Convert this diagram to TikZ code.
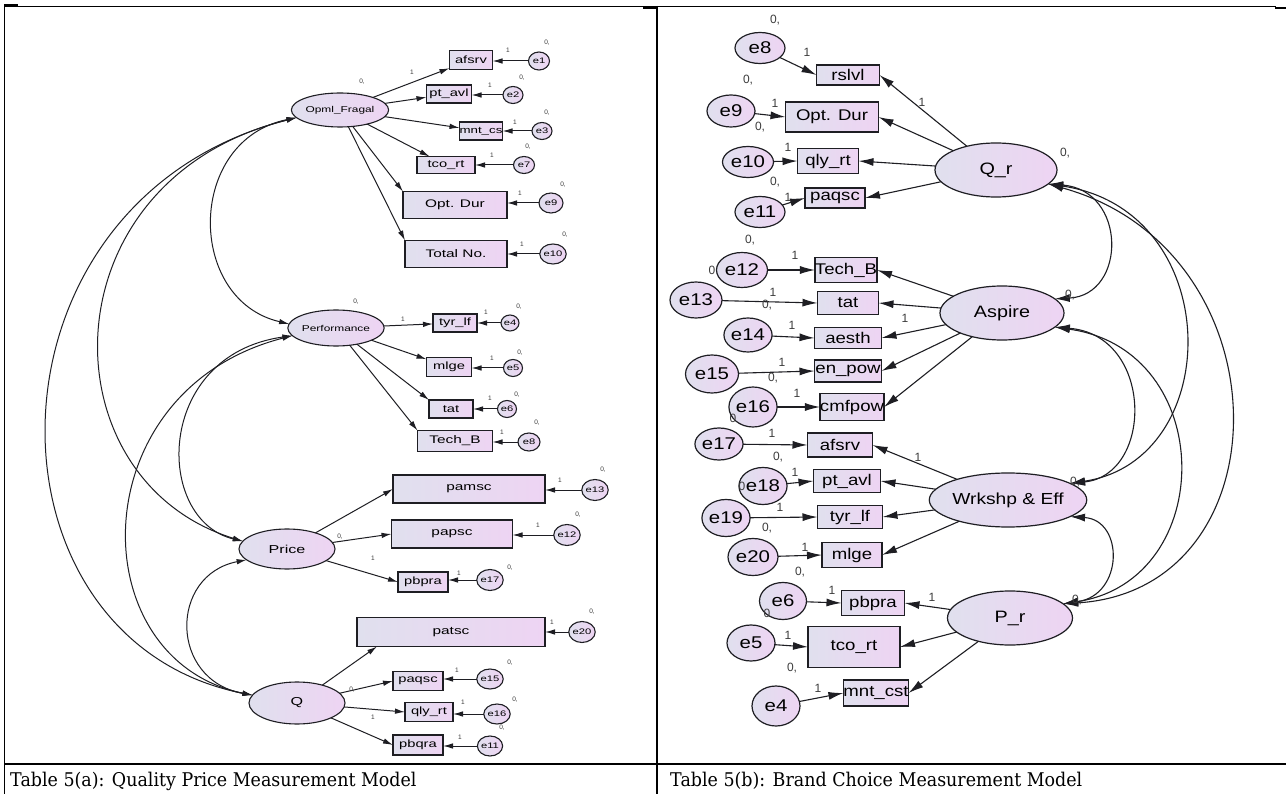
\documentclass[tikz,border=0pt]{standalone}
\usepackage{fontspec}
\usepackage{graphicx}
\setmainfont{Liberation Sans}
\newfontfamily\capfont{DejaVu Serif}
\usetikzlibrary{arrows.meta,shapes.geometric}
\definecolor{shadeL}{RGB}{224,224,238}
\definecolor{shadeR}{RGB}{238,212,243}
\definecolor{inkc}{RGB}{30,30,35}
\definecolor{numc}{RGB}{60,60,60}
\newcommand\Lstr[1]{\scalebox{1.4}[1]{#1}}
\newcommand\Rstr[1]{\scalebox{1.2}[1]{#1}}
\tikzset{
  base/.style={draw=inkc, line width=1.1pt, left color=shadeL, right color=shadeR, inner sep=0pt, outer sep=0pt},
  sz/.style 2 args={minimum width=#1, minimum height=#2},
  latA/.style={base, ellipse, font=\fontsize{8.5}{9}\selectfont},
  boxA/.style={base, rectangle, font=\fontsize{10.5}{11}\selectfont},
  errA/.style={base, ellipse, font=\fontsize{8}{9}\selectfont},
  latB/.style={base, ellipse, line width=1.2pt, font=\fontsize{16.5}{17}\selectfont},
  boxB/.style={base, rectangle, line width=1.2pt, font=\fontsize{15.5}{16}\selectfont},
  errB/.style={base, ellipse, line width=1.2pt, font=\fontsize{17}{18}\selectfont},
  arrA/.style={draw=inkc, line width=1pt, -{Latex[length=10pt,width=5.5pt]}},
  covA/.style={draw=inkc, line width=1pt, {Latex[length=10pt,width=5.5pt]}-{Latex[length=10pt,width=5.5pt]}},
  arrB/.style={draw=inkc, line width=1.1pt, -{Latex[length=15pt,width=8pt]}},
  covB/.style={draw=inkc, line width=1.1pt, {Latex[length=15pt,width=8pt]}-{Latex[length=15pt,width=8pt]}},
  numA/.style={font=\fontsize{6.5}{7}\selectfont, text=numc, inner sep=0pt},
  numB/.style={font=\fontsize{12}{13}\selectfont, text=numc, inner sep=0pt},
  rule/.style={draw=black, line width=1.2pt},
  captxt/.style={anchor=base west, inner sep=0pt, font=\capfont\fontsize{18}{21}\selectfont},
}
\begin{document}
\begin{tikzpicture}[x=1pt,y=-1pt]
\useasboundingbox[fill=white] (0,0) rectangle (1286,794);

% ---- table rules ----
\draw[rule] (4,6.5) -- (1276,6.5);
\draw[draw=black, line width=2.5pt] (4,5.5) -- (18,5.5);
\draw[draw=black, line width=2.5pt] (643,8) -- (657,8);
\draw[draw=black, line width=2.5pt] (1275,8) -- (1286,8);
\draw[rule] (4.5,5) -- (4.5,794);
\draw[rule] (657,6) -- (657,794);
\draw[draw=black, line width=2pt] (4,764) -- (1286,764);
\node[captxt] (capa) at (10,786) {\scalebox{0.97}[1.05]{Table 5(a): Quality Price Measurement Model}};
\node[captxt] (capb) at (670,786) {\scalebox{0.97}[1.05]{Table 5(b): Brand Choice Measurement Model}};

% =========== left model ===========
\node[latA, sz={88}{34}] (opml) at (340,110) {\Lstr{Opml\_Fragal}};
\node[latA, sz={88}{36}] (perf) at (336,328) {\Lstr{Performance}};
\node[latA, sz={96}{40}, font=\fontsize{11.5}{12}\selectfont] (price) at (287,549) {\Lstr{Price}};
\node[latA, sz={96}{42}, font=\fontsize{11.5}{12}\selectfont] (qq) at (297,703) {\Lstr{Q}};

\node[boxA, sz={43}{19}] (a1) at (471,60) {\Lstr{afsrv}};
\node[boxA, sz={45}{18}] (a2) at (449,94) {\Lstr{pt\_avl}};
\node[boxA, sz={43}{18}, font=\fontsize{9.5}{10}\selectfont] (a3) at (481,131) {\Lstr{mnt\_cs}};
\node[boxA, sz={58}{17}] (a4) at (446,165) {\Lstr{tco\_rt}};
\node[boxA, sz={104}{27}, font=\fontsize{11}{12}\selectfont] (a5) at (455,205) {\Lstr{Opt. Dur}};
\node[boxA, sz={102}{27}, font=\fontsize{11}{12}\selectfont] (a6) at (456,254) {\Lstr{Total No.}};
\node[boxA, sz={44}{18}] (b1) at (455,323) {\Lstr{tyr\_lf}};
\node[boxA, sz={45}{19}] (b2) at (449,367) {\Lstr{mlge}};
\node[boxA, sz={44}{18}] (b3) at (451,409) {\Lstr{tat}};
\node[boxA, sz={75}{21}, font=\fontsize{11}{12}\selectfont] (b4) at (455,441) {\Lstr{Tech\_B}};
\node[boxA, sz={152}{28}, font=\fontsize{11}{12}\selectfont] (c1) at (469,489) {\Lstr{pamsc}};
\node[boxA, sz={121}{28}, font=\fontsize{11}{12}\selectfont] (c2) at (452,534) {\Lstr{papsc}};
\node[boxA, sz={50}{20}] (c3) at (423,582) {\Lstr{pbpra}};
\node[boxA, sz={188}{29}, font=\fontsize{11}{12}\selectfont] (d1) at (451,632) {\Lstr{patsc}};
\node[boxA, sz={50}{19}] (d2) at (418,681) {\Lstr{paqsc}};
\node[boxA, sz={48}{19}] (d3) at (429,712) {\Lstr{qly\_rt}};
\node[boxA, sz={50}{20}] (d4) at (418,745) {\Lstr{pbqra}};

\node[errA, sz={21}{18}] (ea1) at (539,61) {\Lstr{e1}};
\node[errA, sz={20}{17}] (ea2) at (513,95) {\Lstr{e2}};
\node[errA, sz={20}{17}] (ea3) at (542,131) {\Lstr{e3}};
\node[errA, sz={21}{17}] (ea4) at (524,165) {\Lstr{e7}};
\node[errA, sz={24}{20}] (ea5) at (551,203) {\Lstr{e9}};
\node[errA, sz={24}{20}] (ea6) at (553,254) {\Lstr{e10}};
\node[errA, sz={18}{16}] (eb1) at (510,323) {\Lstr{e4}};
\node[errA, sz={19}{17}] (eb2) at (513,368) {\Lstr{e5}};
\node[errA, sz={19}{17}] (eb3) at (507,409) {\Lstr{e6}};
\node[errA, sz={22}{18}] (eb4) at (529,442) {\Lstr{e8}};
\node[errA, sz={25}{21}] (ec1) at (595,490) {\Lstr{e13}};
\node[errA, sz={25}{21}] (ec2) at (567,535) {\Lstr{e12}};
\node[errA, sz={25}{21}] (ec3) at (490,580) {\Lstr{e17}};
\node[errA, sz={25}{21}] (ed1) at (582,632) {\Lstr{e20}};
\node[errA, sz={24}{20}] (ed2) at (490,679) {\Lstr{e15}};
\node[errA, sz={25}{20}] (ed3) at (497,714) {\Lstr{e16}};
\node[errA, sz={24}{20}] (ed4) at (490,746) {\Lstr{e11}};

% loadings
\draw[arrA] (opml) -- (a1);
\draw[arrA] (opml) -- (a2);
\draw[arrA] (opml) -- (a3);
\draw[arrA] (opml) -- (a4);
\draw[arrA] (opml) -- (a5.north west);
\draw[arrA] (opml) -- (a6.north west);
\draw[arrA] (perf) -- (b1);
\draw[arrA] (perf) -- (b2);
\draw[arrA] (perf) -- (b3.north west);
\draw[arrA] (perf) -- (b4.north west);
\draw[arrA] (price) -- (c1.west);
\draw[arrA] (price) -- (c2.west);
\draw[arrA] (price) -- (c3.west);
\draw[arrA] (qq) -- ([xshift=20pt]d1.south west);
\draw[arrA] (qq) -- (d2.west);
\draw[arrA] (qq) -- (d3.west);
\draw[arrA] (qq) -- (d4.west);

% error terms
\foreach \e/\b in {ea1/a1,ea2/a2,ea3/a3,ea4/a4,ea5/a5,ea6/a6,eb1/b1,eb2/b2,eb3/b3,eb4/b4,ec1/c1,ec2/c2,ec3/c3,ed1/d1,ed2/d2,ed3/d3,ed4/d4}
  \draw[arrA] (\e) -- (\e -| \b.east);

% covariances
\draw[covA] (opml.190) .. controls (186,140) and (186,300) .. (perf.175);
\draw[covA] (opml.190) .. controls (44,180) and (44,480) .. (price.170);
\draw[covA] (opml.190) .. controls (-28,200) and (-28,640) .. (qq.170);
\draw[covA] (perf.190) .. controls (154,355) and (154,520) .. (price.170);
\draw[covA] (perf.190) .. controls (80,390) and (80,660) .. (qq.170);
\draw[covA] (price.195) .. controls (169,575) and (169,680) .. (qq.170);

% parameter labels
\foreach \x/\y [count=\i] in {362/82,356/302,340/537,352/690,547/43,522/78,547/113,528/147,563/185,565/235,519/307,520/353,517/395,537/423,603/470,578/515,510/568,592/612,510/663,515/700,502/728}
  \node[numA] (va\i) at (\x,\y) {0,};
\foreach \x/\y [count=\i] in {508/50,490/85,515/122,492/155,520/193,522/244,486/312,492/358,490/398,502/432,560/480,538/525,459/573,552/622,457/670,463/702,460/737,412/72,403/319,373/558,373/717}
  \node[numA] (wa\i) at (\x,\y) {1};

% =========== right model ===========
\node[latB, sz={122}{54}] (qr) at (996,170) {\Rstr{Q\_r}};
\node[latB, sz={124}{54}] (asp) at (1002,313) {\Rstr{Aspire}};
\node[latB, sz={124}{54}, font=\fontsize{16}{17}\selectfont] (wrk) at (1008,500) {\Rstr{Wrkshp \& Eff}};
\node[latB, sz={125}{54}] (pr) at (1010,618) {\Rstr{P\_r}};

\node[boxB, sz={63}{20}] (r1) at (848,75) {\Rstr{rslvl}};
\node[boxB, sz={93}{30}] (r2) at (832,117) {\Rstr{Opt. Dur}};
\node[boxB, sz={61}{25}] (r3) at (828,161) {\Rstr{qly\_rt}};
\node[boxB, sz={60}{20}] (r4) at (835,198) {\Rstr{paqsc}};
\node[boxB, sz={62}{25}] (s1) at (846,270) {\Rstr{Tech\_B}};
\node[boxB, sz={61}{23}] (s2) at (848,303) {\Rstr{tat}};
\node[boxB, sz={67}{21}] (s3) at (848,338) {\Rstr{aesth}};
\node[boxB, sz={67}{22}] (s4) at (848,371) {\Rstr{en\_pow}};
\node[boxB, sz={60}{27}] (s5) at (852,407) {\Rstr{cmfpow}};
\node[boxB, sz={65}{24}] (t1) at (840,445) {\Rstr{afsrv}};
\node[boxB, sz={67}{23}] (t2) at (847,481) {\Rstr{pt\_avl}};
\node[boxB, sz={65}{23}] (t3) at (850,517) {\Rstr{tyr\_lf}};
\node[boxB, sz={60}{25}] (t4) at (852,555) {\Rstr{mlge}};
\node[boxB, sz={63}{25}] (u1) at (873,603) {\Rstr{pbpra}};
\node[boxB, sz={92}{41}] (u2) at (854,647) {\Rstr{tco\_rt}};
\node[boxB, sz={64}{26}] (u3) at (876,693) {\Rstr{mnt\_cst}};

\node[errB, sz={50}{31}] (er8) at (760,48) {\Rstr{e8}};
\node[errB, sz={48}{32}] (er9) at (731,111) {\Rstr{e9}};
\node[errB, sz={51}{31}] (er10) at (748,162) {\Rstr{e10}};
\node[errB, sz={50}{31}] (er11) at (760,212) {\Rstr{e11}};
\node[errB, sz={51}{35}] (er12) at (742,270) {\Rstr{e12}};
\node[errB, sz={52}{36}] (er13) at (696,300) {\Rstr{e13}};
\node[errB, sz={46}{34}] (er14) at (748,335) {\Rstr{e14}};
\node[errB, sz={53}{38}] (er15) at (712,374) {\Rstr{e15}};
\node[errB, sz={44}{40}] (er16) at (753,407) {\Rstr{e16}};
\node[errB, sz={48}{32}] (er17) at (719,444) {\Rstr{e17}};
\node[errB, sz={47}{37}] (er18) at (763,486) {\Rstr{e18}};
\node[errB, sz={48}{37}] (er19) at (726,518) {\Rstr{e19}};
\node[errB, sz={50}{37}] (er20) at (753,557) {\Rstr{e20}};
\node[errB, sz={47}{37}] (er6) at (783,601) {\Rstr{e6}};
\node[errB, sz={48}{36}] (er5) at (751,643) {\Rstr{e5}};
\node[errB, sz={48}{40}] (er4) at (776,706) {\Rstr{e4}};

% loadings
\foreach \b in {r1,r2,r3,r4} \draw[arrB] (qr) -- (\b.east);
\foreach \b in {s1,s2,s3,s4,s5} \draw[arrB] (asp) -- (\b.east);
\foreach \b in {t1,t2,t3,t4} \draw[arrB] (wrk) -- (\b.east);
\foreach \b in {u1,u2,u3} \draw[arrB] (pr) -- (\b.east);

% error terms
\foreach \e/\b in {er8/r1,er9/r2,er10/r3,er11/r4,er12/s1,er13/s2,er14/s3,er15/s4,er16/s5,er17/t1,er18/t2,er19/t3,er20/t4,er6/u1,er5/u2,er4/u3}
  \draw[arrB] (\e) -- (\b.west);

% covariances
\draw[covB] (qr.-15) .. controls (1127,190) and (1127,295) .. (asp.15);
\draw[covB] (qr.-15) .. controls (1226,210) and (1226,460) .. (wrk.15);
\draw[covB] (qr.-15) .. controls (1288,250) and (1288,590) .. (pr.15);
\draw[covB] (asp.-15) .. controls (1154,335) and (1154,475) .. (wrk.15);
\draw[covB] (asp.-15) .. controls (1218,350) and (1218,580) .. (pr.15);
\draw[covB] (wrk.-15) .. controls (1124,520) and (1124,595) .. (pr.15);

% parameter labels
\foreach \x/\y [count=\i] in {1065/153,1070/295,1075/482,1077/600,775/20,748/80,760/127,775/182,750/240,767/305,773/378,778/457,767/528,800/572,792/668}
  \node[numB] (vb\i) at (\x,\y) {0,};
\foreach \x/\y [count=\i] in {712/270,733/418,742/486,767/613}
  \node[numB] (zb\i) at (\x,\y) {0};
\foreach \x/\y [count=\i] in {807/52,775/103,788/147,788/197,795/255,773/292,792/325,782/362,797/393,772/433,795/472,780/507,805/547,832/590,788/635,818/688,922/102,905/318,918/457,932/597}
  \node[numB] (wb\i) at (\x,\y) {1};
\end{tikzpicture}
\end{document}
